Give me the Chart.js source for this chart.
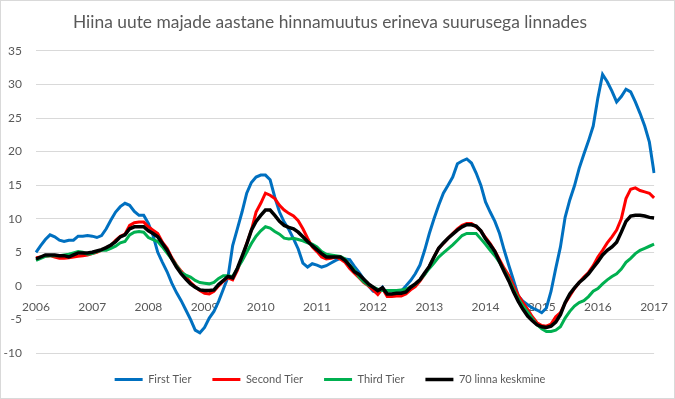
<!DOCTYPE html>
<html>
<head>
<meta charset="utf-8">
<script src="https://cdn.jsdelivr.net/npm/chart.js@4.4.1/dist/chart.umd.min.js"></script>
<style>
    html, body { margin: 0; padding: 0; background: #fff; }
    #wrap { width: 675px; height: 399px; box-sizing: border-box; border: 1px solid #d9d9d9; }
</style>
</head>
<body>
<div id="wrap"><canvas id="hinnadChart"></canvas></div>
<script>
// aastad x-teljel, igakuised punktid 2006-01 .. 2017-01
const aastad = ['2006', '2007', '2008', '2009', '2010', '2011', '2012', '2013', '2014', '2015', '2016', '2017'];
const kuud = ['01', '02', '03', '04', '05', '06', '07', '08', '09', '10', '11', '12'];

const firstTier = [
    5.0, 6.0, 6.9, 7.6, 7.3, 6.8, 6.6, 6.8, 6.8, 7.4, 7.4, 7.5,
    7.4, 7.2, 7.5, 8.5, 9.8, 11.0, 11.8, 12.3, 12.0, 11.1, 10.5, 10.5,
    9.3, 7.5, 5.0, 3.5, 2.1, 0.4, -1.0, -2.2, -3.6, -5.0, -6.6, -7.0,
    -6.2, -4.8, -3.8, -2.3, -0.5, 1.3, 6.0, 8.5, 11.0, 13.8, 15.4, 16.2,
    16.5, 16.5, 15.8, 13.2, 11.0, 9.5, 8.4, 7.0, 5.5, 3.4, 2.8, 3.3,
    3.1, 2.8, 3.0, 3.4, 3.8, 4.1, 4.0, 3.9, 2.9, 2.0, 1.0, 0.0,
    -0.8, -1.0, -0.2, -1.3, -1.2, -1.0, -0.8, 0.0, 0.8, 1.8, 3.1, 5.3,
    7.8, 10.0, 12.0, 13.8, 15.0, 16.2, 18.2, 18.6, 18.9, 18.3, 16.8, 15.0,
    12.5, 11.0, 9.6, 7.8, 5.3, 3.0, 0.8, -1.5, -2.3, -2.8, -3.3, -3.6,
    -4.0, -3.3, -0.8, 2.6, 5.8, 10.2, 12.8, 14.9, 17.5, 19.6, 21.6, 23.8,
    28.0, 31.5, 30.4, 29.0, 27.4, 28.2, 29.3, 28.9, 27.4, 25.7, 23.8, 21.4,
    16.8
];
const secondTier = [
    4.2, 4.3, 4.4, 4.5, 4.3, 4.1, 4.1, 4.2, 4.3, 4.4, 4.5, 4.6,
    4.8, 5.0, 5.3, 5.7, 6.0, 6.8, 7.4, 7.7, 9.0, 9.4, 9.5, 9.5,
    8.8, 8.3, 7.8, 6.5, 5.6, 4.2, 3.1, 2.2, 1.4, 0.5, -0.1, -0.7,
    -1.1, -1.2, -0.8, 0.0, 0.7, 1.2, 0.9, 2.3, 4.2, 6.3, 8.3, 11.0,
    12.3, 13.8, 13.5, 13.0, 12.0, 11.3, 10.8, 10.4, 9.7, 8.5, 7.1, 5.8,
    5.1, 4.3, 4.0, 4.1, 4.3, 4.0, 3.5, 2.6, 1.9, 1.2, 0.5, 0.0,
    -0.6, -1.3, -0.4, -1.6, -1.6, -1.5, -1.5, -1.2, -0.6, -0.1, 0.7, 1.7,
    2.9, 4.3, 5.6, 6.3, 7.1, 7.8, 8.5, 9.0, 9.3, 9.3, 8.8, 8.2,
    7.2, 6.3, 5.2, 3.9, 2.6, 1.5, 0.0, -1.4, -2.5, -3.5, -4.6, -5.5,
    -5.9, -6.0, -5.7, -4.6, -4.0, -2.6, -1.5, -0.4, 0.5, 1.3, 2.0, 3.0,
    4.3, 5.3, 6.4, 7.3, 8.3, 10.0, 13.0, 14.4, 14.6, 14.2, 14.0, 13.8,
    13.1
];
const thirdTier = [
    3.8, 4.1, 4.4, 4.5, 4.5, 4.5, 4.6, 4.7, 4.9, 5.1, 5.0, 4.7,
    4.8, 5.1, 5.3, 5.3, 5.6, 5.9, 6.4, 6.6, 7.6, 8.0, 8.1, 8.0,
    7.2, 6.9, 6.6, 5.8, 4.9, 4.0, 3.0, 2.0, 1.6, 1.3, 0.8, 0.5,
    0.4, 0.3, 0.5, 1.1, 1.5, 1.5, 1.4, 2.6, 3.7, 5.0, 6.3, 7.4,
    8.2, 8.8, 8.6, 8.1, 7.7, 7.1, 7.0, 7.1, 6.9, 6.7, 6.4, 6.2,
    5.8, 5.1, 4.7, 4.6, 4.5, 4.4, 4.0, 3.1, 2.4, 1.3, 0.6, 0.1,
    -0.2, -0.5, -0.7, -0.7, -0.7, -0.7, -0.6, -0.5, -0.2, 0.2, 0.9, 1.7,
    2.6, 3.4, 4.3, 4.9, 5.5, 6.1, 6.8, 7.5, 7.8, 7.8, 7.8, 7.0,
    6.2, 5.3, 4.5, 3.5, 2.3, 1.0, -0.5, -1.9, -3.0, -3.9, -4.9, -5.8,
    -6.4, -6.8, -6.8, -6.6, -6.1, -4.8, -3.8, -3.0, -2.5, -2.2, -1.6, -0.8,
    -0.4, 0.3, 0.9, 1.4, 1.8, 2.5, 3.5, 4.1, 4.8, 5.3, 5.6, 5.9,
    6.2
];
const keskmine70 = [
    4.0, 4.3, 4.6, 4.6, 4.6, 4.5, 4.5, 4.3, 4.6, 4.9, 4.9, 4.9,
    5.0, 5.2, 5.4, 5.7, 6.1, 6.6, 7.3, 7.6, 8.5, 8.8, 8.8, 8.8,
    8.2, 7.8, 7.3, 6.3, 5.3, 4.0, 2.8, 1.8, 1.0, 0.3, -0.2, -0.6,
    -0.7, -0.7, -0.6, 0.2, 0.8, 1.4, 1.2, 2.6, 4.4, 6.2, 8.3, 9.6,
    10.5, 11.3, 11.3, 10.5, 9.6, 9.0, 8.7, 8.5, 8.0, 7.3, 6.6, 6.0,
    5.4, 4.8, 4.3, 4.3, 4.3, 4.3, 3.8, 3.0, 2.1, 1.7, 1.0, 0.3,
    -0.2, -0.7, -0.3, -1.2, -1.2, -1.1, -1.1, -0.9, -0.2, 0.3, 0.9, 1.9,
    2.9, 4.3, 5.6, 6.4, 7.1, 7.7, 8.3, 8.8, 9.1, 9.1, 8.9, 8.2,
    7.0, 6.1, 5.1, 3.6, 2.1, 0.7, -0.9, -2.3, -3.5, -4.5, -5.2, -5.8,
    -6.1, -6.2, -6.0, -5.4, -4.3, -2.5, -1.2, -0.3, 0.5, 1.1, 1.8, 2.7,
    3.6, 4.6, 5.3, 5.8, 6.5, 8.0, 9.6, 10.4, 10.5, 10.5, 10.4, 10.2,
    10.1
];

let kuupaevad = [];
for (let a = 0; a < aastad.length; a++) {
    for (let k = 0; k < kuud.length; k++) {
        if (kuupaevad.length < firstTier.length) kuupaevad.push(aastad[a] + '-' + kuud[k]);
    }
}

const hall = '#595959';
const font = 'Lato';

function seeria(nimi, andmed, varv, laius, jarjekord) {
    return {
        label: nimi,
        data: andmed,
        borderColor: varv,
        backgroundColor: varv,
        borderWidth: laius,
        pointRadius: 0,
        tension: 0,
        order: jarjekord
    };
}

const config = {
    type: 'line',
    data: {
        labels: kuupaevad,
        datasets: [
            seeria('First Tier', firstTier, '#0070C0', 3, 4),
            seeria('Second Tier', secondTier, '#FF0000', 3, 3),
            seeria('Third Tier', thirdTier, '#00B050', 3, 2),
            seeria('70 linna keskmine', keskmine70, '#000000', 3.5, 1)
        ]
    },
    options: {
        responsive: true,
        maintainAspectRatio: false,
        animation: false,
        layout: { padding: { left: 0, right: 15, top: 0, bottom: 3 } },
        plugins: {
            title: {
                display: true,
                text: 'Hiina uute majade aastane hinnamuutus erineva suurusega linnades',
                color: hall,
                font: { family: font, size: 17.4, weight: 'normal' },
                padding: { top: 11, bottom: 18 }
            },
            legend: {
                position: 'bottom',
                labels: {
                    usePointStyle: true,
                    pointStyle: 'line',
                    pointStyleWidth: 28,
                    padding: 21,
                    color: hall,
                    font: { family: font, size: 11 },
                    sort: (a, b) => a.datasetIndex - b.datasetIndex
                }
            },
            tooltip: { enabled: false }
        },
        scales: {
            x: {
                position: { y: 0 },
                grid: { display: false },
                border: { display: false },
                ticks: {
                    autoSkip: false,
                    maxRotation: 0,
                    padding: 6,
                    color: hall,
                    font: { family: font, size: 12 },
                    callback: function (value, index) {
                        let l = kuupaevad[index];
                        return l.endsWith('-01') ? l.substring(0, 4) : '';
                    }
                }
            },
            y: {
                min: -10,
                max: 35,
                afterFit: function (scale) { scale.width = 35; },
                grid: { color: '#d9d9d9', drawTicks: false },
                border: { display: false },
                ticks: {
                    stepSize: 5,
                    padding: 14,
                    color: hall,
                    font: { family: font, size: 12 }
                }
            }
        }
    }
};

var ctx = document.getElementById('hinnadChart').getContext('2d');
let myChart = new Chart(ctx, config);
</script>
</body>
</html>
